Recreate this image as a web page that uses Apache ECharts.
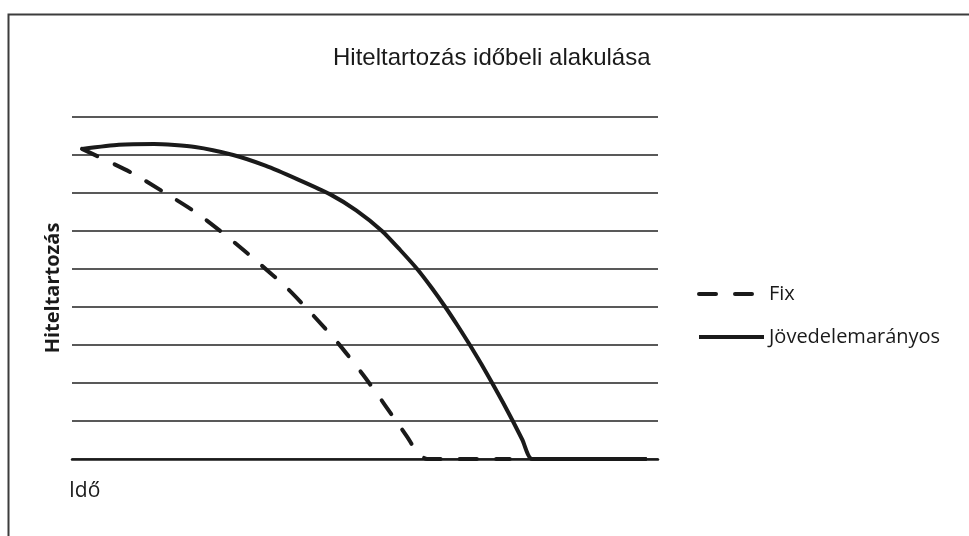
<!DOCTYPE html>
<html>
<head>
<meta charset="utf-8">
<script src="https://cdn.jsdelivr.net/npm/echarts@6/dist/echarts.min.js"></script>
<style>
html,body{margin:0;padding:0;background:#fff;}
#chart{width:969px;height:536px;}
</style>
</head>
<body>
<div id="chart"></div>
<script>
// Time values (arbitrary units 0..100) and loan balance (gridline units 0..9)
const fixTime  = [1.7, 10.2, 15.9, 21.5, 26.6, 31.7, 36.7, 41.1, 45.4, 49.7, 53.4, 57.2, 59.0, 60.6, 74.7];
const fixDebt  = [8.16, 7.53, 7.0, 6.45, 5.84, 5.18, 4.5, 3.79, 3.05, 2.21, 1.42, 0.58, 0.16, 0, 0];
const incomeTime = [1.7, 8, 14, 21, 27.5, 33, 38.5, 44.0, 48.5, 52.9, 56.0, 58.9, 61.4, 63.7, 65.85, 67.9, 69.85, 71.7, 73.5, 75.22, 76.87, 78.5, 98.1];
const incomeDebt = [8.16, 8.27, 8.29, 8.21, 8.0, 7.72, 7.36, 6.97, 6.54, 6.0, 5.5, 5.0, 4.5, 4.0, 3.5, 3.0, 2.5, 2.0, 1.5, 1.0, 0.5, 0, 0];
const seriesNames = ['Fix', 'Jövedelemarányos'];
const titleText = 'Hiteltartozás időbeli alakulása';
const yName = 'Hiteltartozás';
const xName = 'Idő';

const pair = (xs, ys) => xs.map((x, i) => [x, ys[i]]);
const ink = '#1a1a1a';
const dash = [17, 19];

const chart = echarts.init(document.getElementById('chart'), null, {renderer: 'canvas'});
chart.setOption({
  animation: false,
  backgroundColor: '#fff',
  title: {
    text: titleText,
    left: 333, top: 46, padding: 0,
    textStyle: {fontFamily: 'Liberation Sans', fontSize: 24, fontWeight: 'normal', color: ink}
  },
  graphic: [{
    type: 'rect', left: 6, top: 12, silent: true,
    shape: {width: 1100, height: 700},
    style: {fill: 'none', stroke: '#3c3c3c', lineWidth: 2}
  }],
  legend: {
    data: [
      {name: seriesNames[0], itemStyle: {opacity: 0}, lineStyle: {width: 4, type: dash, color: ink}},
      {name: seriesNames[1], itemStyle: {opacity: 0}, lineStyle: {width: 4, type: 'solid', color: ink}}
    ],
    orient: 'vertical', left: 697, top: 284, padding: 0,
    itemWidth: 65, itemHeight: 20, itemGap: 23, itemTextGap: 6,
    selectedMode: false,
    textStyle: {fontFamily: 'Open Sans', fontSize: 20, color: ink}
  },
  grid: {left: 72, right: 311, top: 117, bottom: 77, containLabel: false},
  xAxis: {
    type: 'value', min: 0, max: 100,
    name: xName, nameLocation: 'start', nameGap: 3,
    nameTextStyle: {fontFamily: 'Open Sans', fontSize: 21, color: ink, align: 'left', verticalAlign: 'top', padding: [22, 0, 0, 0]},
    axisLine: {show: true, lineStyle: {color: ink, width: 2.5}},
    axisTick: {show: false}, axisLabel: {show: false}, splitLine: {show: false}
  },
  yAxis: {
    type: 'value', min: 0, max: 9, interval: 1,
    name: yName, nameLocation: 'middle', nameGap: 9, nameRotate: 90,
    nameTextStyle: {fontFamily: 'Open Sans', fontSize: 20, fontWeight: 'bold', color: ink},
    axisLine: {show: false}, axisTick: {show: false}, axisLabel: {show: false},
    splitLine: {show: true, lineStyle: {color: '#222', width: 1.6}}
  },
  series: [
    {
      name: seriesNames[0], type: 'line', data: pair(fixTime, fixDebt),
      showSymbol: false, symbol: 'none', smooth: 0.25, z: 3,
      lineStyle: {color: ink, width: 4, type: dash, cap: 'round'},
      itemStyle: {color: ink}
    },
    {
      name: seriesNames[1], type: 'line', data: pair(incomeTime, incomeDebt),
      showSymbol: false, symbol: 'none', smooth: 0.2, z: 4,
      lineStyle: {color: ink, width: 4, type: 'solid'},
      itemStyle: {color: ink}
    }
  ]
});
</script>
</body>
</html>
